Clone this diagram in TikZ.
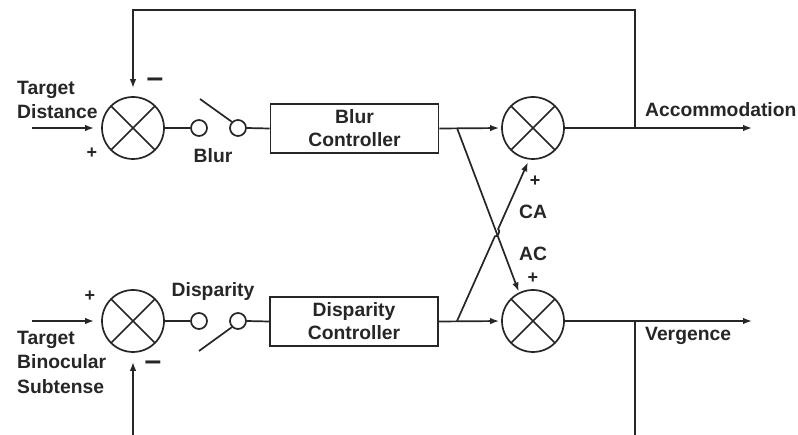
\documentclass[tikz,border=0pt]{standalone}
\usepackage{fontspec}
\setmainfont{Liberation Sans}
\usetikzlibrary{arrows.meta,calc}
\definecolor{ink}{HTML}{262626}

\begin{document}
\begin{tikzpicture}[x=1pt,y=-1pt,
  label/.style={font=\fontsize{19.3}{24.5}\selectfont\bfseries, text=ink, inner sep=0pt},
  sign/.style={font=\fontsize{18}{18}\selectfont\bfseries, text=ink, inner sep=0pt},
  minus/.style={font=\fontsize{30}{30}\selectfont\bfseries, text=ink, inner sep=0pt},
  wire/.style={draw=ink, line width=1.7pt},
  arr/.style={wire, -{Latex[length=9pt,width=6.5pt]}},
  summer/.style={circle, draw=ink, line width=1.7pt, minimum size=62pt, inner sep=0pt,
    path picture={
      \draw[ink, line width=1.7pt] (path picture bounding box.north west) -- (path picture bounding box.south east)
                                   (path picture bounding box.north east) -- (path picture bounding box.south west);}},
  contact/.style={circle, draw=ink, line width=1.7pt, minimum size=16pt, inner sep=0pt},
  ctrl/.style={rectangle, draw=ink, line width=1.7pt, minimum width=168pt, minimum height=49pt,
    align=center, font=\fontsize{19.3}{23}\selectfont\bfseries, text=ink, inner sep=0pt}]

\useasboundingbox (0,0) rectangle (798,435);
\fill[white] (0,0) rectangle (798,435);

% ---------- accommodation (blur) channel ----------
\node[summer]  (sumB)  at (133,128) {};
\node[contact] (cB1)   at (199,128) {};
\node[contact] (cB2)   at (238,128) {};
\node[ctrl]    (blur)  at (354.5,128.5) {Blur\\Controller};
\node[summer]  (sumA)  at (533,128) {};
\coordinate (inB)   at (32,128);
\coordinate (levB)  at (200,99);
\coordinate (brA)   at (457,128);
\coordinate (tapA)  at (635,128);
\coordinate (outA)  at (752,128);
\coordinate (topL)  at (133,10);
\coordinate (topR)  at (635,10);

% ---------- vergence (disparity) channel ----------
\node[summer]  (sumD)  at (133,321) {};
\node[contact] (cD1)   at (199,321) {};
\node[contact] (cD2)   at (238,321) {};
\node[ctrl]    (disp)  at (354,321.5) {Disparity\\Controller};
\node[summer]  (sumV)  at (533,321) {};
\coordinate (inD)   at (32,321);
\coordinate (levD)  at (199,351);
\coordinate (brV)   at (457,321);
\coordinate (tapV)  at (635,321);
\coordinate (outV)  at (752,321);
\coordinate (botL)  at (133,435);
\coordinate (botR)  at (635,435);

% forward paths
\draw[arr, shorten >=7pt] (inB) -- (sumB.west);
\draw[wire] (sumB.east) -- (cB1.west);
\draw[wire] (cB2.135) -- (levB);
\draw[wire] (cB2.east) -- (blur.west);
\draw[arr, shorten >=2pt] (blur.east) -- (sumA.west);
\draw[arr] (sumA.east) -- (outA);

\draw[arr, shorten >=7pt] (inD) -- (sumD.west);
\draw[wire] (sumD.east) -- (cD1.west);
\draw[wire] (cD2.225) -- (levD);
\draw[wire] (cD2.east) -- (disp.west);
\draw[arr, shorten >=2pt] (disp.east) -- (sumV.west);
\draw[arr] (sumV.east) -- (outV);

% negative feedback loops
\draw[arr, shorten >=8pt] (tapA) -- (topR) -- (topL) -- (sumB.north);
\draw[arr, shorten >=9pt] (botL) -- (sumD.south);
\draw[wire] (tapV) -- (botR);

% cross links (AC and CA), with a hop where they cross
\coordinate (tipV) at (sumV.116);
\coordinate (tipA) at (sumA.263);
\coordinate (X) at (intersection of brA--tipV and brV--tipA);
\coordinate (hop1) at ($(X)!4pt!(brV)$);
\coordinate (hop2) at ($(X)!4pt!(tipA)$);
\draw[arr, shorten >=1pt] (brA) -- (tipV);
\draw[arr, shorten >=3pt] (brV) -- (hop1) to[bend right=90] (hop2) -- (tipA);

% labels
\node[label, anchor=west, align=left] (tdist) at (17,100) {Target\\Distance};
\node[label, anchor=west, align=left] (tbin)  at (17,362) {Target\\Binocular\\Subtense};
\node[label] (lblur) at (213,156) {Blur};
\node[label] (ldisp) at (213,292) {Disparity};
\node[label, anchor=west] (lacc) at (645,110) {Accommodation};
\node[label, anchor=west] (lver) at (645,336) {Vergence};
\node[label] (lca) at (533,212) {CA};
\node[label] (lac) at (533,254) {AC};

\node[sign] (pB) at (92,153) {+};
\node[sign] (pD) at (90,296) {+};
\node[sign] (pA) at (535,181) {+};
\node[sign] (pV) at (533,278) {+};
\node[minus] (mB) at (155,83) {–};
\node[minus] (mD) at (153,366) {–};
\end{tikzpicture}
\end{document}
